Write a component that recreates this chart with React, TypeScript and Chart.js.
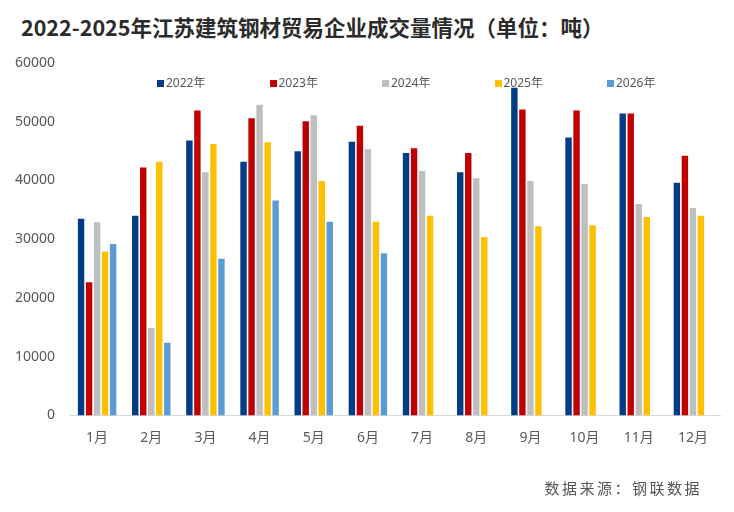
import React, { useEffect, useRef } from "react";
import Chart from "chart.js/auto";

const months = ["1月", "2月", "3月", "4月", "5月", "6月", "7月", "8月", "9月", "10月", "11月", "12月"];
const years = ["2022年", "2023年", "2024年", "2025年", "2026年"];
const colors = ["#023B86", "#C00000", "#BFBFBF", "#FFC000", "#5B9BD5"];

const v2022 = [33500, 34000, 46800, 43200, 45000, 46600, 44700, 41400, 55800, 47300, 51400, 39600];
const v2023 = [22700, 42200, 51900, 50600, 50100, 49300, 45500, 44700, 52100, 51900, 51400, 44200];
const v2024 = [32900, 14900, 41400, 52900, 51100, 45300, 41600, 40400, 39900, 39400, 36000, 35300];
const v2025 = [27900, 43200, 46200, 46500, 39900, 33000, 34000, 30400, 32200, 32400, 33800, 34000];
const v2026 = [29200, 12400, 26700, 36600, 33000, 27600, null, null, null, null, null, null];

const series = [v2022, v2023, v2024, v2025, v2026];

const App: React.FC = () => {
  const canvasRef = useRef<HTMLCanvasElement | null>(null);
  const chartRef = useRef<Chart | null>(null);

  useEffect(() => {
    if (!canvasRef.current) return;
    if (chartRef.current) chartRef.current.destroy();

    const tickFont = { family: "'Noto Sans', 'Noto Sans CJK SC', sans-serif", size: 14 };

    chartRef.current = new Chart(canvasRef.current, {
      type: "bar",
      data: {
        labels: months,
        datasets: series.map((data, i) => ({
          label: years[i],
          data,
          backgroundColor: colors[i],
          categoryPercentage: 0.74,
          barPercentage: 0.8,
        })),
      },
      options: {
        responsive: false,
        animation: false,
        devicePixelRatio: 1,
        layout: { padding: { top: 63, right: 14, left: 0, bottom: 0 } },
        plugins: {
          legend: { display: false },
          tooltip: { enabled: false },
        },
        scales: {
          x: {
            grid: { display: false, drawTicks: false },
            border: { display: true, color: "#D9D9D9", width: 1 },
            ticks: { color: "#595959", font: tickFont, padding: 14, maxRotation: 0 },
            afterFit: (axis) => {
              axis.height = 96.5;
            },
          },
          y: {
            min: 0,
            max: 60000,
            grid: { display: false, drawTicks: false },
            border: { display: false },
            ticks: {
              stepSize: 10000,
              color: "#595959",
              font: tickFont,
              padding: 15,
              callback: (v) => String(v),
            },
            afterFit: (axis) => {
              axis.width = 70;
            },
          },
        },
      },
    });

    return () => {
      if (chartRef.current) {
        chartRef.current.destroy();
        chartRef.current = null;
      }
    };
  }, []);

  return (
    <div style={{ position: "absolute", left: 0, top: 0, width: 734, height: 512, background: "#fff" }}>
      <div
        style={{
          position: "absolute",
          left: 21,
          top: 12,
          fontFamily: "'Noto Sans CJK SC', sans-serif",
          fontWeight: 700,
          fontSize: 21.5,
          lineHeight: "30px",
          color: "#2B2B2B",
          whiteSpace: "nowrap",
        }}>
        2022-2025年江苏建筑钢材贸易企业成交量情况（单位：吨）
      </div>
      <canvas ref={canvasRef} width={734} height={512} style={{ position: "absolute", left: 0, top: 0 }} />
      {years.map((y, i) => (
        <div
          key={y}
          style={{
            position: "absolute",
            left: 157 + i * 112.5,
            top: 74,
            display: "flex",
            alignItems: "center",
            fontFamily: "'Noto Sans', 'Noto Sans CJK SC', sans-serif",
            fontSize: 12,
            lineHeight: "18px",
            color: "#595959",
            whiteSpace: "nowrap",
          }}>
          <span style={{ display: "inline-block", width: 7, height: 7, background: colors[i], marginRight: 2 }} />
          {y}
        </div>
      ))}
      <div
        style={{
          position: "absolute",
          right: 32,
          top: 477,
          fontFamily: "'Noto Sans CJK SC', serif",
          fontSize: 15,
          lineHeight: "22px",
          letterSpacing: 2.5,
          color: "#555555",
          whiteSpace: "nowrap",
        }}>
        数据来源：钢联数据
      </div>
    </div>
  );
};

export default App;
